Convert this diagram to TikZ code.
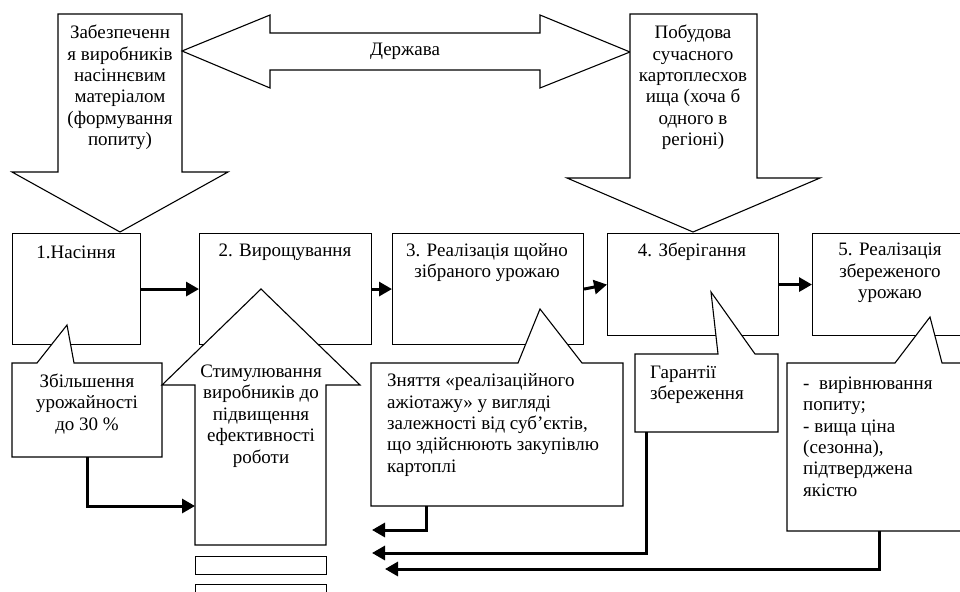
\documentclass[tikz,border=0pt]{standalone}
\usepackage{fontspec}
\setmainfont{Liberation Serif}
\usetikzlibrary{arrows.meta}
\begin{document}
\begin{tikzpicture}[x=1pt,y=-1pt,
  shp/.style={draw=black, line width=1.1pt, fill=white, line join=miter},
  box/.style={draw=black, line width=1.1pt, fill=white, inner sep=0pt, anchor=north west},
  txt/.style={font=\fontsize{19}{21.4}\selectfont, inner sep=0pt, align=center},
  ltxt/.style={font=\fontsize{19}{21.4}\selectfont, inner sep=0pt, align=left, anchor=west},
  conn/.style={line width=3pt, -{Triangle[length=13pt,width=14pt]}}]
\useasboundingbox (0,0) rectangle (960,591);
\clip (0,0) rectangle (960,591);
% top arrows
\draw[shp] (58,14) -- (182,14) -- (182,172) -- (228,172) -- (120,232) -- (12,172) -- (58,172) -- cycle;
\draw[shp] (182,51) -- (270,15) -- (270,33) -- (540,33) -- (540,15) -- (630,52) -- (540,88) -- (540,70) -- (270,70) -- (270,88) -- cycle;
\draw[shp] (630,14) -- (757,14) -- (757,178) -- (820,178) -- (693,232) -- (567,178) -- (630,178) -- cycle;
% boxes
\node[box, minimum width=128pt, minimum height=111pt] (b1) at (12,233) {};
\node[box, minimum width=172pt, minimum height=111pt] (b2) at (199,233) {};
\node[box, minimum width=191pt, minimum height=111pt] (b3) at (392,233) {};
\node[box, minimum width=171pt, minimum height=102pt] (b4) at (607,233) {};
\node[box, minimum width=160pt, minimum height=102pt] (b5) at (812,233) {};
\draw[conn] (b1.east) -- (b2.west);
\draw[conn] (b2.east) -- (b3.west);
\draw[conn] (b3.east) -- (b4.west);
\draw[conn] (b4.east) -- (b5.west);
% callouts
\draw[shp] (12,363) -- (37,363) -- (67,325) -- (74,363) -- (162,363) -- (162,457) -- (12,457) -- cycle;
\draw[shp] (195,545) -- (195,385) -- (162,385) -- (261,289) -- (360,385) -- (326,385) -- (326,545) -- cycle;
\node[box, minimum width=131pt, minimum height=18pt] (r1) at (195,556) {};
\node[box, minimum width=131pt, minimum height=20pt] (r2) at (195,584) {};
\draw[shp] (371,363) -- (518,363) -- (540,309) -- (582,363) -- (623,363) -- (623,506) -- (371,506) -- cycle;
\draw[shp] (635,354) -- (718,354) -- (711,292) -- (755,354) -- (778,354) -- (778,432) -- (635,432) -- cycle;
\draw[shp] (787,363) -- (895,363) -- (930,317) -- (942,363) -- (990,363) -- (990,531) -- (787,531) -- cycle;
% texts
\node[txt] (t0) at (120,87.5) {Забезпеченн\\я виробників\\насіннєвим\\матеріалом\\(формування\\попиту)};
\node[txt] (td) at (405,51) {Держава};
\node[txt] (tr) at (693,87.5) {Побудова\\сучасного\\картоплесхов\\ища (хоча б\\одного в\\регіоні)};
\node[txt] (t1) at (76,252) {1.Насіння};
\node[txt] (t2) at (285,252) {2. Вирощування};
\node[txt] (t3) at (487,262.5) {3. Реалізація щойно\\зібраного урожаю};
\node[txt] (t4) at (692,252) {4. Зберігання};
\node[txt] (t5) at (890,273) {5. Реалізація\\збереженого\\урожаю};
\node[txt] (c1) at (87,404) {Збільшення\\урожайності\\до 30 \%};
\node[txt] (cu) at (261,416) {Стимулювання\\виробників до\\підвищення\\ефективності\\роботи};
\node[ltxt] (c3) at (387,425) {Зняття «реалізаційного\\ажіотажу» у вигляді\\залежності від суб’єктів,\\що здійснюють закупівлю\\картоплі};
\node[ltxt] (c4) at (650,385) {Гарантії\\збереження};
\node[ltxt] (c5) at (803,436.5) {-\ \ вирівнювання\\попиту;\\- вища ціна\\(сезонна),\\підтверджена\\якістю};
% connectors from callouts
\coordinate (c1b) at (87,457);
\coordinate (c1e) at (195,506);
\coordinate (c3b) at (426,506);
\coordinate (c3e) at (372,530);
\coordinate (c4b) at (646,432);
\coordinate (c4e) at (372,553);
\coordinate (c5b) at (879,531);
\coordinate (c5e) at (385,569);
\draw[conn] (c1b) |- (c1e);
\draw[conn] (c3b) |- (c3e);
\draw[conn] (c4b) |- (c4e);
\draw[conn] (c5b) |- (c5e);
\end{tikzpicture}
\end{document}
